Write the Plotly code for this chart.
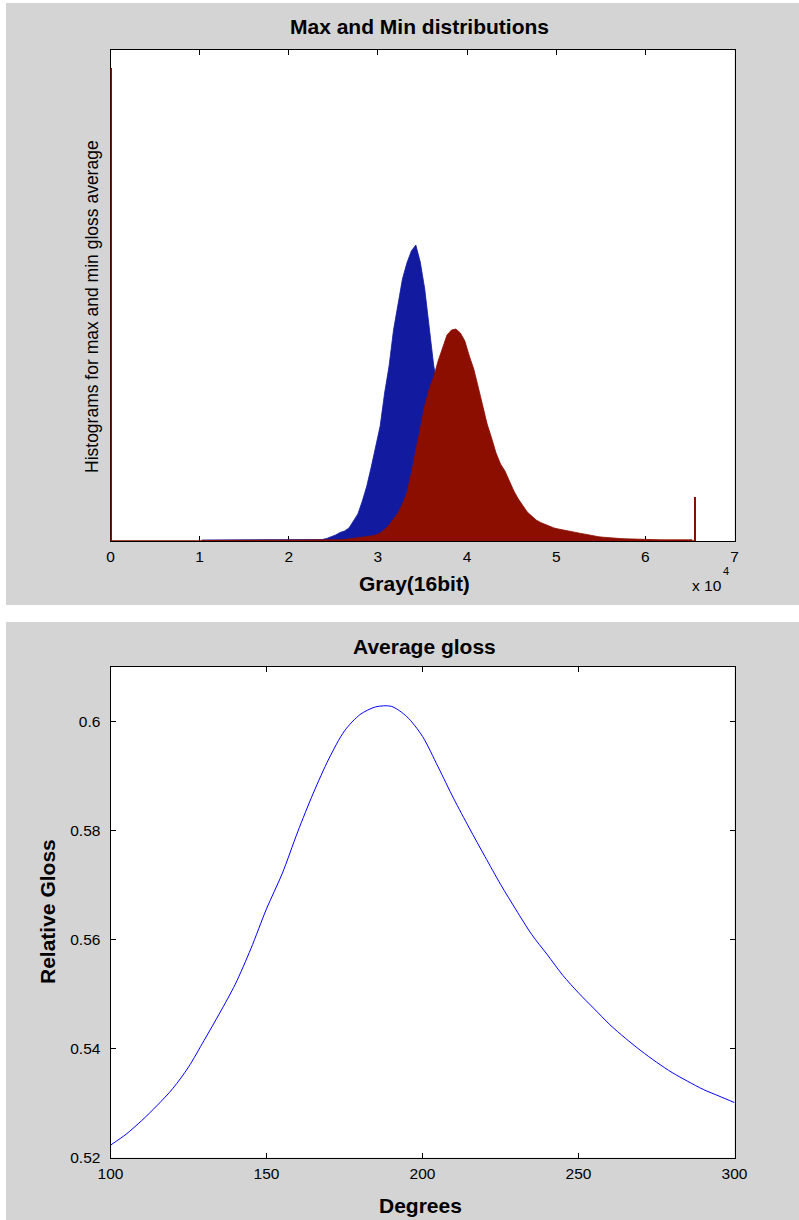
import plotly.graph_objects as go

W, H = 799, 1220

# ---------------- data: top panel (histograms, bin width 500) ----------------
bin_width = 500
blue_first_center = 10250
blue_counts = [
    100, 100, 100, 100, 100, 100, 100, 100, 100, 100, 100, 100, 100,
    100, 100, 100, 100, 100, 100, 100, 100, 100, 100, 100, 100, 100,
    100, 150, 250, 400, 600, 850, 1000, 1300, 2000, 2700, 4000, 5500,
    7400, 9500, 11500, 14800, 17500, 21100, 23600, 26200, 27800, 29000,
    29600, 27900, 25200, 21200, 17600, 15000, 12000, 9500, 7500, 5500,
    3800, 2700, 1900, 1400, 1000, 750, 550, 400, 300, 250, 200, 150,
    150, 100, 100, 50, 50,
]
red_first_center = 10250
red_counts = [
    50, 50, 50, 50, 50, 50, 50, 50, 50, 50, 50, 50, 50, 50, 50,
    50, 50, 50, 50, 50, 50, 50, 50, 50, 50, 50, 50, 50, 50, 50,
    100, 120, 150, 200, 230, 280, 330, 400, 500, 600, 800, 1150, 1600,
    2200, 2800, 3700, 4800, 6800, 9000, 11000, 13500, 15200, 16400,
    18000, 19400, 20600, 21100, 21200, 20800, 20000, 18500, 17200,
    15400, 13500, 11700, 10300, 8800, 7700, 7000, 6000, 5000, 4200,
    3500, 2900, 2500, 2100, 1850, 1650, 1450, 1300, 1200, 1100, 1000,
    920, 850, 760, 680, 580, 500, 430, 380, 330, 290, 260, 240, 220,
    200, 190, 180, 160, 150, 120, 120, 120, 120, 120, 120, 120, 120,
    120, 120,
]
# saturated end bins of the max-gloss histogram (gray 0 and gray 65535)
red_end_gray = [0, 65535]
red_end_counts = [47300, 4370]

hist_x_ticks = [0, 10000, 20000, 30000, 40000, 50000, 60000, 70000]
hist_x_ticktext = ["0", "1", "2", "3", "4", "5", "6", "7"]

# ---------------- data: bottom panel (average gloss) ----------------
degrees = [100, 105, 110, 115, 120, 125, 130, 135, 140, 145, 150, 155, 160,
           165, 170, 175, 180, 185, 190, 195, 200, 205, 210, 215, 220, 225,
           230, 235, 240, 245, 250, 255, 260, 265, 270, 275, 280, 285, 290,
           295, 300]
gloss = [0.5223, 0.5243, 0.5268, 0.5296, 0.5327, 0.5366, 0.5415, 0.5465,
         0.5518, 0.5583, 0.5656, 0.5720, 0.5797, 0.5868, 0.5931, 0.5982,
         0.6012, 0.6026, 0.6027, 0.6008, 0.5972, 0.5916, 0.5858, 0.5804,
         0.5752, 0.5701, 0.5654, 0.5609, 0.5572, 0.5534, 0.5502, 0.5473,
         0.5444, 0.5419, 0.5396, 0.5375, 0.5356, 0.5340, 0.5325, 0.5313,
         0.5301]
gloss_yticks = [0.52, 0.54, 0.56, 0.58, 0.60]
gloss_yticktext = ["0.52", "0.54", "0.56", "0.58", "0.6"]
deg_ticks = [100, 150, 200, 250, 300]

# ---------------- styling helpers ----------------
FONT = "Liberation Sans, Arial, Helvetica, sans-serif"
BLUE = "#121b9f"
RED = "#8c0e00"
GRAY = "#d4d4d4"


def xp(px):
    return px / W


def yp(py):
    return 1 - py / H


blue_x = [blue_first_center + i * bin_width for i in range(len(blue_counts))]
red_x = [red_first_center + i * bin_width for i in range(len(red_counts))]

fig = go.Figure()

fig.add_trace(go.Scatter(x=blue_x, y=blue_counts, mode="lines",
                         fill="tozeroy", fillcolor=BLUE,
                         line=dict(color=BLUE, width=0.8),
                         xaxis="x", yaxis="y", showlegend=False))
fig.add_trace(go.Scatter(x=red_x, y=red_counts, mode="lines",
                         fill="tozeroy", fillcolor=RED,
                         line=dict(color=RED, width=0.8),
                         xaxis="x", yaxis="y", showlegend=False))
fig.add_trace(go.Bar(x=red_end_gray, y=red_end_counts, width=260,
                     marker=dict(color=RED, line=dict(width=0)),
                     xaxis="x", yaxis="y", showlegend=False))
# zero-count bins drawn as a baseline edge (as MATLAB's bar edges do)
fig.add_trace(go.Scatter(x=[min(red_end_gray), max(red_end_gray)], y=[0, 0],
                         mode="lines", line=dict(color=RED, width=1.5),
                         xaxis="x", yaxis="y", showlegend=False,
                         hoverinfo="skip"))

fig.add_trace(go.Scatter(x=degrees, y=gloss, mode="lines",
                         line=dict(color="#0000ff", width=1,
                                   shape="spline", smoothing=0.8),
                         xaxis="x2", yaxis="y2", showlegend=False))

axis_common = dict(showline=True, linecolor="black", linewidth=1,
                   mirror="ticks", showgrid=False, zeroline=False,
                   automargin=False,
                   tickfont=dict(family=FONT, size=15.5, color="black"))

xdom = [xp(110.5), xp(734.5)]

fig.update_layout(
    template="none",
    width=W, height=H,
    margin=dict(l=0, r=0, t=0, b=0, pad=0),
    paper_bgcolor=GRAY,
    plot_bgcolor="white",
    barmode="overlay",
    bargap=0,
    xaxis=dict(domain=xdom, anchor="y", range=[0, 70000],
               tickvals=hist_x_ticks, ticktext=hist_x_ticktext,
               ticks="inside", ticklen=5, tickcolor="black",
               ticklabelstandoff=1,
               layer="below traces", **axis_common),
    yaxis=dict(domain=[yp(541), yp(50)], anchor="x", range=[0, 49100],
               showticklabels=False, ticks="",
               layer="below traces", **axis_common),
    xaxis2=dict(domain=xdom, anchor="y2", range=[100, 300],
                tickvals=deg_ticks, ticks="inside", ticklen=5,
                tickcolor="black", ticklabelstandoff=2, **axis_common),
    yaxis2=dict(domain=[yp(1157.7), yp(666.5)], anchor="x2",
                range=[0.52, 0.61], tickvals=gloss_yticks,
                ticktext=gloss_yticktext, ticks="inside", ticklen=5,
                tickcolor="black", ticklabelstandoff=6, **axis_common),
    shapes=[
        # white strips around / between the two gray figure panels
        dict(type="rect", xref="paper", yref="paper", layer="below",
             x0=0, x1=xp(6), y0=0, y1=1,
             fillcolor="white", line=dict(width=0)),
        dict(type="rect", xref="paper", yref="paper", layer="below",
             x0=0, x1=1, y0=yp(3), y1=1,
             fillcolor="white", line=dict(width=0)),
        dict(type="rect", xref="paper", yref="paper", layer="below",
             x0=0, x1=1, y0=yp(622), y1=yp(605),
             fillcolor="white", line=dict(width=0)),
    ],
)


def ann(text, px, py, size, bold=False, angle=0, xanchor="center"):
    t = f"<b>{text}</b>" if bold else text
    fig.add_annotation(text=t, x=xp(px), y=yp(py), xref="paper",
                       yref="paper", showarrow=False, textangle=angle,
                       xanchor=xanchor, yanchor="middle",
                       font=dict(family=FONT, size=size, color="black"))


ann("Max and Min distributions", 419, 27, 21, bold=True)
ann("Gray(16bit)", 415, 583, 21, bold=True)
ann("x 10", 707, 585, 15.5)
ann("4", 726, 571, 11)
ann("Histograms for max and min gloss average", 92, 307, 17.5, angle=-90)
ann("Average gloss", 424, 646, 21, bold=True)
ann("Degrees", 420, 1205, 21, bold=True)
ann("Relative Gloss", 47, 912, 21, bold=True, angle=-90)

fig.write_html(
    "out.html",
    config={"displayModeBar": False},
    post_script="document.body.style.margin='0';"
                "document.body.style.overflow='hidden';",
)
